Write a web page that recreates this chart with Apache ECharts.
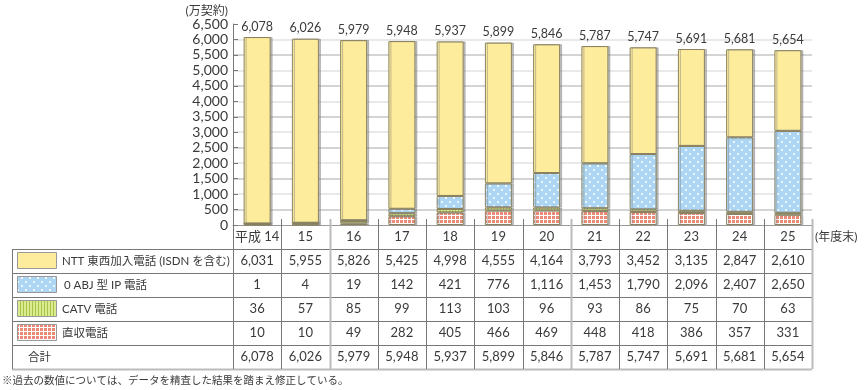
<!DOCTYPE html>
<html><head><meta charset="utf-8">
<script src="https://cdn.jsdelivr.net/npm/echarts@6/dist/echarts.min.js"></script>
<style>html,body{margin:0;padding:0;background:#fff}#c{width:864px;height:390px}</style>
</head><body><div id="c"></div>
<script>
const categories = ['平成 14','15','16','17','18','19','20','21','22','23','24','25'];
const nttValues = [6031,5955,5826,5425,4998,4555,4164,3793,3452,3135,2847,2610];
const ipValues = [1,4,19,142,421,776,1116,1453,1790,2096,2407,2650];
const catvValues = [36,57,85,99,113,103,96,93,86,75,70,63];
const directValues = [10,10,49,282,405,466,469,448,418,386,357,331];
const totalValues = [6078,6026,5979,5948,5937,5899,5846,5787,5747,5691,5681,5654];
const seriesNames = ['NTT 東西加入電話 (ISDN を含む)','0 ABJ 型 IP 電話','CATV 電話','直収電話'];
const totalLabel = '合計';
const yUnit = '(万契約)';
const xUnit = '(年度末)';
const footnote = '※過去の数値については、データを精査した結果を踏まえ修正している。';

const FONT = 'Lato, "Noto Sans CJK JP", sans-serif';
const TXT = '#3a3a3a';

function makePattern(w, h, draw) {
  const c = document.createElement('canvas');
  c.width = w; c.height = h;
  draw(c.getContext('2d'));
  return { image: c, repeat: 'repeat' };
}
const yellow = '#fcec9c';
const bluePat = makePattern(8, 8, g => {
  g.fillStyle = '#acd6f4'; g.fillRect(0,0,8,8);
  g.fillStyle = '#ffffff';
  g.beginPath(); g.arc(2,2,1.1,0,Math.PI*2); g.fill();
  g.beginPath(); g.arc(6,6,1.1,0,Math.PI*2); g.fill();
});
const greenPat = makePattern(3, 3, g => {
  g.fillStyle = '#dcea90'; g.fillRect(0,0,3,3);
  g.fillStyle = '#a6c44a'; g.fillRect(2,0,1,3);
});
const redPat = makePattern(4, 4, g => {
  g.fillStyle = '#ffffff'; g.fillRect(0,0,4,4);
  g.fillStyle = '#ec8a78'; g.fillRect(0,0,3,3);
});

const GL = 233, GR = 812, GT = 24, GB = 225;
const colW = (GR - GL) / categories.length;
const rowLines = [249, 273, 297, 321, 345, 369];
const rowCenters = [261, 285, 309, 333, 357];
const headerY = 237;

const graphics = [];
const lineStyle = { stroke: '#777', lineWidth: 1 };
rowLines.forEach((y, i) => {
  const last = i === rowLines.length - 1;
  graphics.push({ type: 'line', shape: { x1: 12, y1: y + 0.5, x2: GR, y2: y + 0.5 },
    style: last ? { stroke: '#bbb', lineWidth: 2 } : lineStyle, z: 10 });
});
graphics.push({ type: 'line', shape: { x1: 12.5, y1: 249, x2: 12.5, y2: 369 }, style: lineStyle, z: 10 });
graphics.push({ type: 'line', shape: { x1: GL + 0.5, y1: GB, x2: GL + 0.5, y2: 369 }, style: lineStyle, z: 10 });
for (let i = 1; i <= categories.length; i++) {
  const x = Math.round(GL + colW * i) + 0.5;
  const special = (i === 2 || i === 7 || i === categories.length);
  graphics.push({ type: 'line', shape: { x1: x, y1: 219, x2: x, y2: 369 },
    style: special ? { stroke: '#bbb', lineWidth: 2 } : lineStyle, z: 10 });
}
categories.forEach((c, i) => {
  graphics.push({ type: 'text', z: 11, style: { text: c, x: GL + colW * (i + 0.5), y: headerY,
    fill: TXT, font: '13px ' + FONT, align: 'center', verticalAlign: 'middle' } });
});
graphics.push({ type: 'text', z: 11, style: { text: xUnit, x: 815, y: headerY,
  fill: TXT, font: '12px ' + FONT, align: 'left', verticalAlign: 'middle' } });
const rowData = [nttValues, ipValues, catvValues, directValues, totalValues];
const swatches = [yellow, bluePat, greenPat, redPat];
const rowLabels = [seriesNames[0], seriesNames[1], seriesNames[2], seriesNames[3], totalLabel];
rowLabels.forEach((lab, r) => {
  const cy = rowCenters[r];
  if (r < 4) {
    graphics.push({ type: 'rect', z: 11, shape: { x: 17.5, y: cy - 8.5, width: 39, height: 16 },
      style: { fill: swatches[r], stroke: '#999', lineWidth: 1 } });
  }
  graphics.push({ type: 'text', z: 11, style: { text: lab, x: r < 4 ? (r === 1 ? 64 : 62) : 28, y: cy,
    fill: TXT, font: '11.5px ' + FONT, align: 'left', verticalAlign: 'middle' } });
  rowData[r].forEach((v, i) => {
    graphics.push({ type: 'text', z: 11, style: { text: v.toLocaleString('en-US'),
      x: GL + colW * (i + 0.5), y: cy, fill: TXT, font: '13px ' + FONT, align: 'center', verticalAlign: 'middle' } });
  });
});
graphics.push({ type: 'text', z: 11, style: { text: yUnit, x: 228, y: 11, fill: TXT,
  font: '12px ' + FONT, align: 'right', verticalAlign: 'middle' } });
graphics.push({ type: 'text', z: 11, style: { text: footnote, x: 2, y: 381, fill: TXT,
  font: '10.5px ' + FONT, align: 'left', verticalAlign: 'middle' } });

const barItem = (fill) => ({ color: fill, borderColor: '#8a8260', borderWidth: 1,
  shadowColor: 'rgba(120,120,120,0.45)', shadowOffsetX: 2, shadowOffsetY: 0, shadowBlur: 0 });

const chart = echarts.init(document.getElementById('c'), null, { renderer: 'canvas' });
chart.setOption({
  animation: false,
  textStyle: { fontFamily: FONT },
  grid: { left: GL, right: 864 - GR, top: GT, bottom: 390 - GB, containLabel: false },
  xAxis: { type: 'category', data: categories,
    axisLine: { show: true, lineStyle: { color: '#999', width: 1 } },
    axisTick: { show: false }, axisLabel: { show: false } },
  yAxis: { type: 'value', min: 0, max: 6500, interval: 500,
    axisLine: { show: true, lineStyle: { color: '#777', width: 1 } },
    axisTick: { show: true, inside: true, length: 5, lineStyle: { color: '#777' } },
    axisLabel: { color: TXT, fontSize: 14, margin: 5, fontFamily: FONT,
      formatter: v => v.toLocaleString('en-US') },
    splitLine: { show: true, showMinLine: false, showMaxLine: false,
      lineStyle: { color: ['#c6c6c6', '#e2e2e2'], width: 1.5 } } },
  series: [
    { name: seriesNames[3], type: 'bar', stack: 't', data: directValues, barWidth: 27, itemStyle: barItem(redPat) },
    { name: seriesNames[2], type: 'bar', stack: 't', data: catvValues, barWidth: 27, itemStyle: barItem(greenPat) },
    { name: seriesNames[1], type: 'bar', stack: 't', data: ipValues, barWidth: 27, itemStyle: barItem(bluePat) },
    { name: seriesNames[0], type: 'bar', stack: 't', data: nttValues, barWidth: 27, itemStyle: barItem(yellow),
      label: { show: true, position: 'top', distance: 4, color: TXT, fontSize: 12.5, fontFamily: FONT,
        formatter: p => totalValues[p.dataIndex].toLocaleString('en-US') } }
  ],
  graphic: graphics
});
</script></body></html>
